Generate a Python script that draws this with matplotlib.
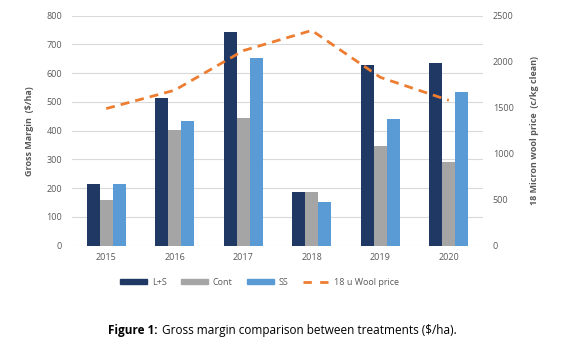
import numpy as np
import matplotlib.pyplot as plt
from matplotlib.lines import Line2D
from matplotlib.patches import Patch

years = ["2015", "2016", "2017", "2018", "2019", "2020"]
ls_margin = [215, 512, 742, 185, 628, 634]
cont_margin = [160, 402, 444, 185, 345, 292]
ss_margin = [215, 432, 652, 152, 441, 535]
wool_price = [1490, 1690, 2120, 2340, 1830, 1580]

c_ls = "#203864"
c_cont = "#A5A5A5"
c_ss = "#5B9BD5"
c_wool = "#ED7D31"
txt = "#595959"

plt.rcParams['font.family'] = ['Open Sans', 'DejaVu Sans']

fig = plt.figure(figsize=(5.71, 3.57), dpi=100)
ax = fig.add_axes([0.126, 0.312, 0.72, 0.644])
ax2 = ax.twinx()

x = np.arange(len(years))
w = 0.19
ax.bar(x - w, ls_margin, w, color=c_ls, zorder=3)
ax.bar(x, cont_margin, w, color=c_cont, zorder=3)
ax.bar(x + w, ss_margin, w, color=c_ss, zorder=3)

ax2.plot(x, wool_price, color=c_wool, lw=2, dashes=(3.2, 2.2), zorder=4)

ax.set_xlim(-0.5, len(years) - 0.5)
ax.set_ylim(0, 800)
ax.set_yticks(range(0, 801, 100))
ax2.set_ylim(0, 2500)
ax2.set_yticks(range(0, 2501, 500))
ax.set_xticks(x)
ax.set_xticklabels(years)

ax.grid(axis='y', color='#D9D9D9', lw=0.8, zorder=0)
for a in (ax, ax2):
    for s in a.spines.values():
        s.set_visible(False)
    a.tick_params(length=0, labelsize=6.5, colors=txt)
ax.tick_params(axis='y', pad=7)
ax.tick_params(axis='x', pad=5)
ax2.tick_params(axis='y', pad=7)

ax.set_ylabel("Gross Margin  ($/ha)", fontsize=6.5, fontweight='bold', color=txt, labelpad=9)
ax2.set_ylabel("18 Micron wool price  (c/kg clean)", fontsize=6.5, fontweight='bold',
               color=txt, labelpad=12)

handles = [Patch(color=c_ls), Patch(color=c_cont), Patch(color=c_ss),
           Line2D([0], [0], color=c_wool, lw=2, dashes=(3, 3))]
labels = ["L+S", "Cont", "SS", "18 u Wool price"]
fig.legend(handles, labels, loc='center', bbox_to_anchor=(0.455, 0.21), ncol=4,
           frameon=False, fontsize=6.5, handlelength=3.0, handleheight=0.4,
           columnspacing=1.6, handletextpad=0.5, labelcolor=txt)

# caption: bold prefix, then the rest right after it
t1 = fig.text(0.19, 0.075, "Figure 1:", fontsize=8.5, fontweight='bold', ha='left', va='center')
plt.annotate("Gross margin comparison between treatments ($/ha).", xy=(1, 0.5),
             xycoords=t1, xytext=(3, 0), textcoords='offset points',
             fontsize=8.5, ha='left', va='center')

fig.savefig("out.png", dpi=100)
